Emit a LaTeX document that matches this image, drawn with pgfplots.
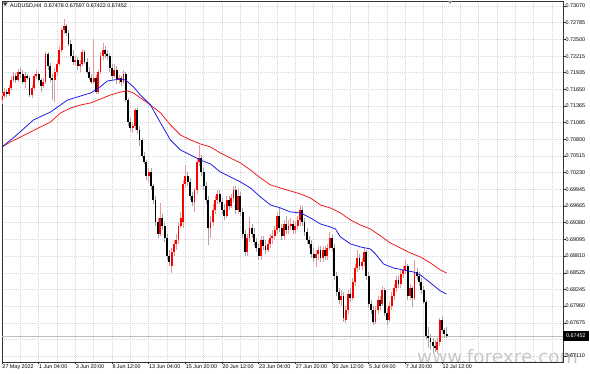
\documentclass[border=0pt]{standalone}
\usepackage{pgfplots}
\pgfplotsset{compat=1.18}
\usepackage{pgfplotstable}
\usepackage{fontspec}
\setmainfont{Liberation Sans}
\newfontfamily\wmfont{DejaVu Sans}
\definecolor{bull}{RGB}{255,0,0}
\definecolor{bear}{RGB}{0,0,0}
\definecolor{bullwick}{RGB}{240,150,150}
\definecolor{bearwick}{RGB}{165,165,165}
\definecolor{gridc}{RGB}{214,214,224}
\definecolor{maBlue}{RGB}{30,30,225}
\definecolor{maRed}{RGB}{240,30,30}
\definecolor{bidline}{RGB}{190,190,190}

\pgfplotstableread{
i o h l c
0 0.71469 0.71588 0.71401 0.71537
1 0.71537 0.71674 0.71503 0.71605
2 0.71605 0.71657 0.71520 0.71571
3 0.71571 0.71725 0.71537 0.71674
4 0.71674 0.71878 0.71639 0.71810
5 0.71810 0.71946 0.71776 0.71878
6 0.71878 0.71929 0.71759 0.71810
7 0.71810 0.71997 0.71776 0.71946
8 0.71946 0.72014 0.71844 0.71912
9 0.71912 0.71980 0.71742 0.71776
10 0.71776 0.71946 0.71674 0.71878
11 0.71878 0.71912 0.71810 0.71844
12 0.71844 0.71878 0.71520 0.71554
13 0.71554 0.71725 0.71503 0.71674
14 0.71674 0.71912 0.71639 0.71878
15 0.71878 0.71980 0.71827 0.71912
16 0.71912 0.71946 0.71776 0.71810
17 0.71810 0.71844 0.71605 0.71708
18 0.71708 0.71844 0.71674 0.71776
19 0.71776 0.72286 0.71742 0.72252
20 0.72252 0.72286 0.71980 0.72048
21 0.72048 0.72099 0.71776 0.71844
22 0.71844 0.71912 0.71469 0.71810
23 0.71810 0.72014 0.71435 0.71946
24 0.71946 0.72150 0.71878 0.72082
25 0.72082 0.72389 0.72048 0.72320
26 0.72320 0.72695 0.72286 0.72661
27 0.72661 0.72849 0.72593 0.72729
28 0.72729 0.72763 0.72559 0.72610
29 0.72610 0.72661 0.72389 0.72423
30 0.72423 0.72491 0.72184 0.72218
31 0.72218 0.72320 0.72065 0.72116
32 0.72116 0.72218 0.72048 0.72150
33 0.72150 0.72201 0.71980 0.72048
34 0.72048 0.72150 0.71946 0.72082
35 0.72082 0.72338 0.72048 0.72286
36 0.72286 0.72320 0.72082 0.72116
37 0.72116 0.72184 0.71912 0.71946
38 0.71946 0.72031 0.71810 0.71844
39 0.71844 0.71912 0.71742 0.71776
40 0.71776 0.72491 0.71742 0.71844
41 0.71844 0.71895 0.71571 0.71605
42 0.71605 0.71980 0.71571 0.71946
43 0.71946 0.72286 0.71912 0.72218
44 0.72218 0.72440 0.72150 0.72320
45 0.72320 0.72389 0.72184 0.72252
46 0.72252 0.72320 0.72150 0.72218
47 0.72218 0.72269 0.71946 0.72014
48 0.72014 0.72082 0.71810 0.71878
49 0.71878 0.72082 0.71844 0.71980
50 0.71980 0.72048 0.71742 0.71810
51 0.71810 0.71895 0.71742 0.71844
52 0.71844 0.71878 0.71708 0.71776
53 0.71776 0.71980 0.71742 0.71912
54 0.71912 0.71946 0.71435 0.71469
55 0.71469 0.71503 0.71026 0.71094
56 0.71094 0.71163 0.70924 0.70992
57 0.70992 0.71094 0.70907 0.71026
58 0.71026 0.71333 0.70958 0.71299
59 0.71299 0.71333 0.70890 0.70958
60 0.70958 0.71026 0.70686 0.70788
61 0.70788 0.70822 0.70481 0.70515
62 0.70515 0.70583 0.70379 0.70413
63 0.70413 0.70447 0.70107 0.70175
64 0.70175 0.70311 0.70073 0.70243
65 0.70243 0.70311 0.69936 0.70005
66 0.70005 0.70039 0.69698 0.69766
67 0.69766 0.69834 0.69323 0.69391
68 0.69391 0.69460 0.69119 0.69187
69 0.69187 0.69715 0.69153 0.69460
70 0.69460 0.69528 0.69255 0.69323
71 0.69323 0.69391 0.69051 0.69119
72 0.69119 0.69187 0.68744 0.68812
73 0.68812 0.68914 0.68642 0.68710
74 0.68642 0.68949 0.68523 0.68880
75 0.68880 0.69085 0.68812 0.69017
76 0.69017 0.69187 0.68914 0.69085
77 0.69085 0.69391 0.69017 0.69323
78 0.69323 0.69562 0.69289 0.69460
79 0.69391 0.70107 0.69289 0.70039
80 0.70039 0.70362 0.69971 0.70175
81 0.70175 0.70243 0.70005 0.70073
82 0.70073 0.70141 0.69766 0.69834
83 0.69834 0.69902 0.69664 0.69732
84 0.69732 0.69971 0.69562 0.69936
85 0.69936 0.70481 0.69868 0.70413
86 0.70413 0.70703 0.70345 0.70481
87 0.70481 0.70532 0.70175 0.70243
88 0.70243 0.70311 0.69936 0.70005
89 0.70005 0.70073 0.69698 0.69766
90 0.69766 0.69834 0.69000 0.69289
91 0.69289 0.69494 0.69119 0.69391
92 0.69391 0.69698 0.69323 0.69596
93 0.69596 0.69834 0.69528 0.69766
94 0.69766 0.69936 0.69698 0.69868
95 0.69868 0.69936 0.69698 0.69732
96 0.69732 0.69800 0.69528 0.69596
97 0.69596 0.69698 0.69425 0.69494
98 0.69494 0.69834 0.69460 0.69766
99 0.69766 0.69834 0.69596 0.69664
100 0.69664 0.69868 0.69630 0.69800
101 0.69800 0.70005 0.69732 0.69936
102 0.69936 0.70005 0.69528 0.69596
103 0.69596 0.69971 0.69528 0.69834
104 0.69834 0.69902 0.69494 0.69562
105 0.69562 0.69630 0.69119 0.69187
106 0.69187 0.69255 0.68812 0.68880
107 0.68880 0.69187 0.68812 0.69119
108 0.69119 0.69477 0.69051 0.69289
109 0.69289 0.69357 0.69119 0.69187
110 0.69187 0.69289 0.68983 0.69051
111 0.69051 0.69119 0.68880 0.68949
112 0.68949 0.69017 0.68744 0.68812
113 0.68812 0.69153 0.68744 0.69085
114 0.69085 0.69153 0.68914 0.68983
115 0.68983 0.69085 0.68846 0.68914
116 0.68914 0.69085 0.68880 0.69017
117 0.69017 0.69187 0.68949 0.69119
118 0.69119 0.69255 0.69017 0.69153
119 0.69153 0.69323 0.69085 0.69255
120 0.69255 0.69562 0.69187 0.69494
121 0.69494 0.69630 0.69221 0.69289
122 0.69289 0.69357 0.69085 0.69153
123 0.69153 0.69425 0.69085 0.69357
124 0.69357 0.69494 0.69187 0.69255
125 0.69255 0.69425 0.69187 0.69323
126 0.69323 0.69460 0.69255 0.69357
127 0.69357 0.69425 0.69187 0.69255
128 0.69255 0.69391 0.69187 0.69323
129 0.69323 0.69494 0.69255 0.69425
130 0.69425 0.69681 0.69323 0.69596
131 0.69596 0.69664 0.69323 0.69391
132 0.69391 0.69460 0.69153 0.69221
133 0.69221 0.69289 0.69017 0.69085
134 0.69085 0.69153 0.68949 0.69017
135 0.69017 0.69085 0.68778 0.68846
136 0.68846 0.68949 0.68710 0.68778
137 0.68778 0.68914 0.68625 0.68846
138 0.68846 0.68983 0.68744 0.68914
139 0.68914 0.68983 0.68710 0.68778
140 0.68778 0.68983 0.68710 0.68914
141 0.68914 0.68983 0.68744 0.68812
142 0.68812 0.69017 0.68744 0.68949
143 0.68949 0.69221 0.68914 0.69119
144 0.69119 0.69187 0.68880 0.68949
145 0.68949 0.69017 0.68404 0.68472
146 0.68472 0.68540 0.68131 0.68199
147 0.68199 0.68268 0.67995 0.68063
148 0.68063 0.68233 0.67961 0.68131
149 0.68131 0.68199 0.67688 0.67757
150 0.67722 0.67961 0.67671 0.67893
151 0.67893 0.68233 0.67825 0.68165
152 0.68165 0.68268 0.68029 0.68097
153 0.68097 0.68438 0.68063 0.68370
154 0.68370 0.68676 0.68302 0.68608
155 0.68608 0.68914 0.68540 0.68778
156 0.68778 0.68846 0.68574 0.68642
157 0.68642 0.68778 0.68574 0.68710
158 0.68710 0.68949 0.68642 0.68880
159 0.68880 0.68914 0.68404 0.68472
160 0.68472 0.68540 0.67927 0.67995
161 0.67995 0.68063 0.67825 0.67893
162 0.67893 0.67961 0.67637 0.67688
163 0.67688 0.67961 0.67654 0.67893
164 0.67893 0.68131 0.67825 0.68063
165 0.68063 0.68131 0.67893 0.67961
166 0.67995 0.68302 0.67961 0.68233
167 0.68233 0.68268 0.67791 0.67842
168 0.67842 0.67927 0.67637 0.67722
169 0.67722 0.68029 0.67688 0.67961
170 0.67961 0.68199 0.67893 0.68131
171 0.68131 0.68336 0.68063 0.68268
172 0.68268 0.68472 0.68199 0.68404
173 0.68404 0.68472 0.68268 0.68336
174 0.68336 0.68574 0.68268 0.68506
175 0.68506 0.68642 0.68438 0.68574
176 0.68574 0.68744 0.68506 0.68642
177 0.68642 0.68676 0.68063 0.68131
178 0.68131 0.68336 0.68063 0.68268
179 0.68268 0.68302 0.67944 0.68097
180 0.68097 0.68744 0.68063 0.68540
181 0.68540 0.68608 0.68404 0.68472
182 0.68472 0.68540 0.68302 0.68370
183 0.68370 0.68438 0.68165 0.68233
184 0.68233 0.68302 0.67995 0.68029
185 0.68029 0.68063 0.67382 0.67450
186 0.67450 0.67603 0.67246 0.67416
187 0.67416 0.67484 0.67211 0.67348
188 0.67348 0.67416 0.67160 0.67280
189 0.67280 0.67382 0.67177 0.67246
190 0.67211 0.67416 0.67143 0.67348
191 0.67348 0.67757 0.67280 0.67722
192 0.67722 0.67791 0.67518 0.67552
193 0.67552 0.67586 0.67416 0.67484
194 0.67478 0.67597 0.67422 0.67452
}\candles

\pgfplotstableread{
i p
0 0.70669
5.9 0.70856
13.7 0.71128
21.2 0.71265
25.5 0.71384
28.6 0.71469
34.3 0.71537
38.6 0.71588
41.7 0.71657
46.0 0.71793
51.7 0.71827
53.9 0.71810
57.4 0.71691
60.4 0.71554
64.8 0.71384
69.2 0.71077
73.5 0.70788
77.9 0.70617
82.3 0.70532
86.6 0.70447
91.0 0.70379
95.3 0.70243
99.7 0.70158
104.1 0.70073
108.4 0.69971
112.8 0.69817
117.2 0.69681
121.5 0.69630
125.9 0.69562
130.3 0.69545
134.6 0.69460
139.0 0.69357
143.3 0.69306
145.5 0.69272
147.7 0.69136
152.1 0.69017
156.4 0.68966
160.8 0.68932
163.0 0.68846
166.5 0.68676
170.8 0.68608
175.2 0.68574
179.6 0.68540
182.6 0.68489
187.0 0.68353
191.3 0.68216
194.0 0.68165
}\mafast

\pgfplotstableread{
i p
0 0.70669
3.7 0.70754
12.4 0.70924
21.2 0.71094
25.5 0.71248
29.9 0.71333
34.3 0.71384
38.6 0.71418
43.0 0.71486
47.3 0.71554
51.7 0.71605
54.8 0.71622
57.4 0.71588
61.7 0.71469
64.8 0.71384
69.2 0.71248
73.5 0.71043
77.9 0.70873
82.3 0.70788
86.6 0.70720
91.0 0.70669
95.3 0.70566
99.7 0.70481
104.1 0.70396
108.4 0.70277
112.8 0.70141
117.2 0.70022
121.5 0.69971
125.9 0.69919
130.3 0.69868
134.6 0.69800
139.0 0.69681
143.3 0.69630
147.7 0.69545
152.1 0.69425
156.4 0.69340
160.8 0.69272
165.2 0.69153
169.5 0.69034
173.9 0.68949
178.3 0.68863
182.6 0.68795
187.0 0.68693
191.3 0.68574
194.0 0.68523
}\maslow

\begin{document}
\begin{tikzpicture}
\path[use as bounding box] (0,0) rectangle (590pt,374pt);
\node[anchor=base west, inner sep=0, text=black!22, font=\wmfont\fontsize{18.5}{18.5}\selectfont] at (417pt,10.5pt) {www.forexre.com};
\begin{axis}[
  at={(2pt,12pt)}, anchor=south west,
  scale only axis, width=561pt, height=361pt,
  xmin=0, xmax=244.8, ymin=0.67007, ymax=0.73155,
  axis line style={black!80, line width=0.5pt},
  xtick={0,16,...,192},
  xticklabels={27 May 2022, 1 Jun 04:00, 3 Jun 20:00, 8 Jun 12:00, 13 Jun 04:00, 15 Jun 20:00, 20 Jun 12:00, 23 Jun 04:00, 27 Jun 20:00, 30 Jun 12:00, 5 Jul 04:00, 7 Jul 20:00, 12 Jul 12:00},
  minor xtick={0,8,...,240},
  xminorgrids=true,
  minor tick length=0pt,
  ytick={0.67110,0.67395,0.67675,0.67960,0.68245,0.68525,0.68810,0.69095,0.69380,0.69665,0.69945,0.70230,0.70515,0.70800,0.71085,0.71365,0.71650,0.71935,0.72215,0.72500,0.72785,0.73070},
  yticklabels={0.67110,0.67395,0.67675,0.67960,0.68245,0.68525,0.68810,0.69095,0.69380,0.69665,0.69945,0.70230,0.70515,0.70800,0.71085,0.71365,0.71650,0.71935,0.72215,0.72500,0.72785,0.73070},
  ymajorgrids=true,
  grid style={gridc, line width=0.5pt, dash pattern=on 1pt off 1pt},
  tick align=outside, major tick length=2.5pt,
  xtick pos=bottom, ytick pos=right, yticklabel pos=right,
  tick style={black!80, line width=0.5pt},
  ticklabel style={font=\fontsize{5.4}{6}\selectfont, text=black},
  xticklabel style={anchor=north west, inner sep=0pt, xshift=0.3pt},
  yticklabel style={anchor=west, inner sep=0pt},
  /pgf/number format/assume math mode=true,
  candle/.style={forget plot, only marks, mark=*, mark size=0pt, mark options={draw=none, fill=none}},
]
\addplot[forget plot, color=bidline, line width=0.5pt] coordinates {(0,0.67452) (244.8,0.67452)};
% wicks
\addplot[candle,
  restrict expr to domain={\thisrow{c}-\thisrow{o}}{0:1},
  error bars/.cd, y dir=both, y explicit, error mark=none,
  error bar style={line width=0.55pt, draw=bullwick}]
  table[x=i, y expr={(\thisrow{h}+\thisrow{l})/2}, y error expr={(\thisrow{h}-\thisrow{l})/2}] {\candles};
\addplot[candle,
  restrict expr to domain={\thisrow{c}-\thisrow{o}}{-1:0},
  error bars/.cd, y dir=both, y explicit, error mark=none,
  error bar style={line width=0.55pt, draw=bearwick}]
  table[x=i, y expr={(\thisrow{h}+\thisrow{l})/2}, y error expr={(\thisrow{h}-\thisrow{l})/2}] {\candles};
% bodies
\addplot[candle,
  restrict expr to domain={\thisrow{c}-\thisrow{o}}{0:1},
  error bars/.cd, y dir=both, y explicit, error mark=none,
  error bar style={line width=1.9pt, draw=bull}]
  table[x=i, y expr={(\thisrow{o}+\thisrow{c})/2}, y error expr={max(abs(\thisrow{c}-\thisrow{o})/2,0.00003)}] {\candles};
\addplot[candle,
  restrict expr to domain={\thisrow{c}-\thisrow{o}}{-1:0},
  error bars/.cd, y dir=both, y explicit, error mark=none,
  error bar style={line width=1.9pt, draw=bear}]
  table[x=i, y expr={(\thisrow{o}+\thisrow{c})/2}, y error expr={max(abs(\thisrow{c}-\thisrow{o})/2,0.00003)}] {\candles};
% moving averages
\addplot[forget plot, color=maRed, line width=0.8pt] table[x=i, y=p] {\maslow};
\addplot[forget plot, color=maBlue, line width=0.8pt] table[x=i, y=p] {\mafast};
\coordinate (bid) at (axis cs:244.8,0.67452);
\end{axis}
\node[fill=black, text=white, anchor=west, inner xsep=3pt, inner ysep=0pt, minimum height=10pt, font=\fontsize{5.4}{6}\selectfont] at (bid) {0.67452};
\node[anchor=west, inner sep=0, font=\fontsize{5.4}{6}\selectfont] at (10pt,368pt) {AUDUSD,H4\ \ 0.67478 0.67597 0.67422 0.67452};
\fill[black!75] (2.8pt,371.5pt) -- (7.6pt,371.5pt) -- (5.2pt,367.8pt) -- cycle;
\fill[black!45] (447.6pt,373.2pt) -- (452.6pt,373.2pt) -- (450.1pt,370.2pt) -- cycle;
\end{tikzpicture}
\end{document}
